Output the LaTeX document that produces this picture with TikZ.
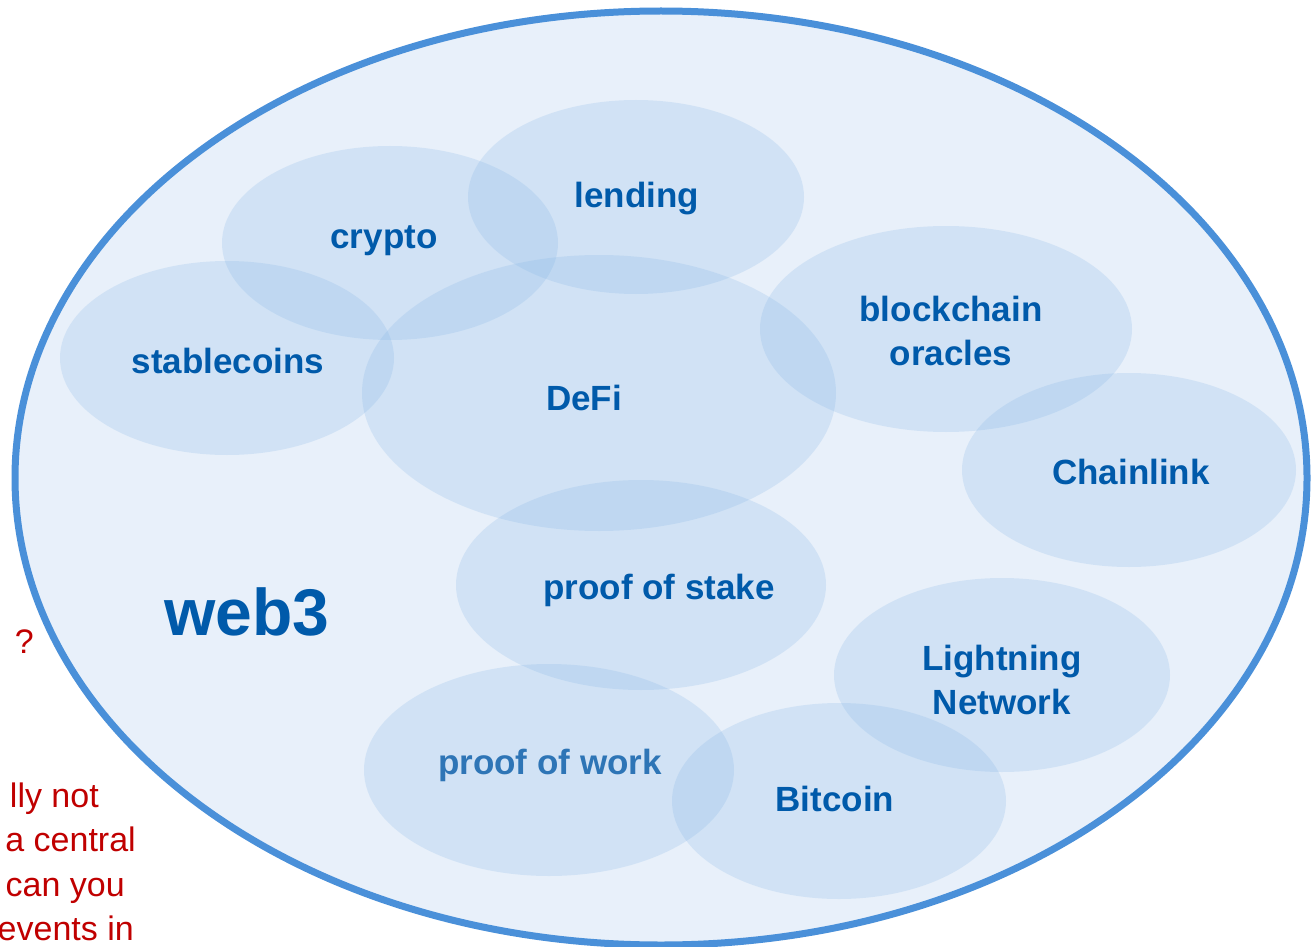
\documentclass[tikz,border=0pt]{standalone}
\usepackage{fontspec}
\setmainfont{Liberation Sans}
\definecolor{rim}{RGB}{74,144,217}
\definecolor{pool}{RGB}{232,240,250}
\definecolor{bubble}{RGB}{130,180,230}
\definecolor{ink}{RGB}{0,90,170}
\definecolor{softink}{RGB}{46,117,182}
\definecolor{note}{RGB}{192,0,0}
\tikzset{
  x=1pt, y=-1pt,
  bubblefill/.style={fill=bubble, fill opacity=0.22},
  term/.style={font=\fontsize{35}{44}\selectfont\bfseries, text=ink, align=center, inner sep=0pt},
  remark/.style={font=\fontsize{34}{40}\selectfont, text=note, inner sep=0pt, anchor=base east}
}
\begin{document}
\begin{tikzpicture}
\useasboundingbox (0,0) rectangle (1315,947);
\fill[white] (0,0) rectangle (1315,947);

% the web3 universe
\filldraw[fill=pool, draw=rim, line width=7pt] (661,478) ellipse [x radius=646, y radius=467];

% overlapping topic bubbles
\fill[bubblefill] (390,243) ellipse [x radius=168, y radius=97];
\fill[bubblefill] (636,197) ellipse [x radius=168, y radius=97];
\fill[bubblefill] (227,358) ellipse [x radius=167, y radius=97];
\fill[bubblefill] (599,393) ellipse [x radius=237, y radius=138];
\fill[bubblefill] (946,329) ellipse [x radius=186, y radius=103];
\fill[bubblefill] (1129,470) ellipse [x radius=167, y radius=97];
\fill[bubblefill] (641,585) ellipse [x radius=185, y radius=105];
\fill[bubblefill] (1002,675) ellipse [x radius=168, y radius=97];
\fill[bubblefill] (549,770) ellipse [x radius=185, y radius=106];
\fill[bubblefill] (839,801) ellipse [x radius=167, y radius=98];

% labels
\node[term] (lending) at (637,199) {lending};
\node[term] (crypto) at (384,241) {crypto};
\node[term] (stable) at (228,361) {stablecoins};
\node[term] (defi) at (584,398) {DeFi};
\node[term] (oracles) at (951,331) {blockchain\\oracles};
\node[term] (chainlink) at (1131,472) {Chainlink};
\node[term] (pos) at (659,590) {proof of stake};
\node[term] (lightning) at (1002,680) {Lightning\\Network};
\node[term, text=softink] (pow) at (550,765) {proof of work};
\node[term] (bitcoin) at (835,799) {Bitcoin};
\node[term, font=\fontsize{66}{72}\selectfont\bfseries] (web3) at (247,612) {web3};

% side remarks
\node[remark] (q) at (34,653) {?};
\node[remark] (r1) at (99,807) {lly not};
\node[remark] (r2) at (136,851) {a central};
\node[remark] (r3) at (125,896) {can you};
\node[remark] (r4) at (134,940) {events in};
\end{tikzpicture}
\end{document}
